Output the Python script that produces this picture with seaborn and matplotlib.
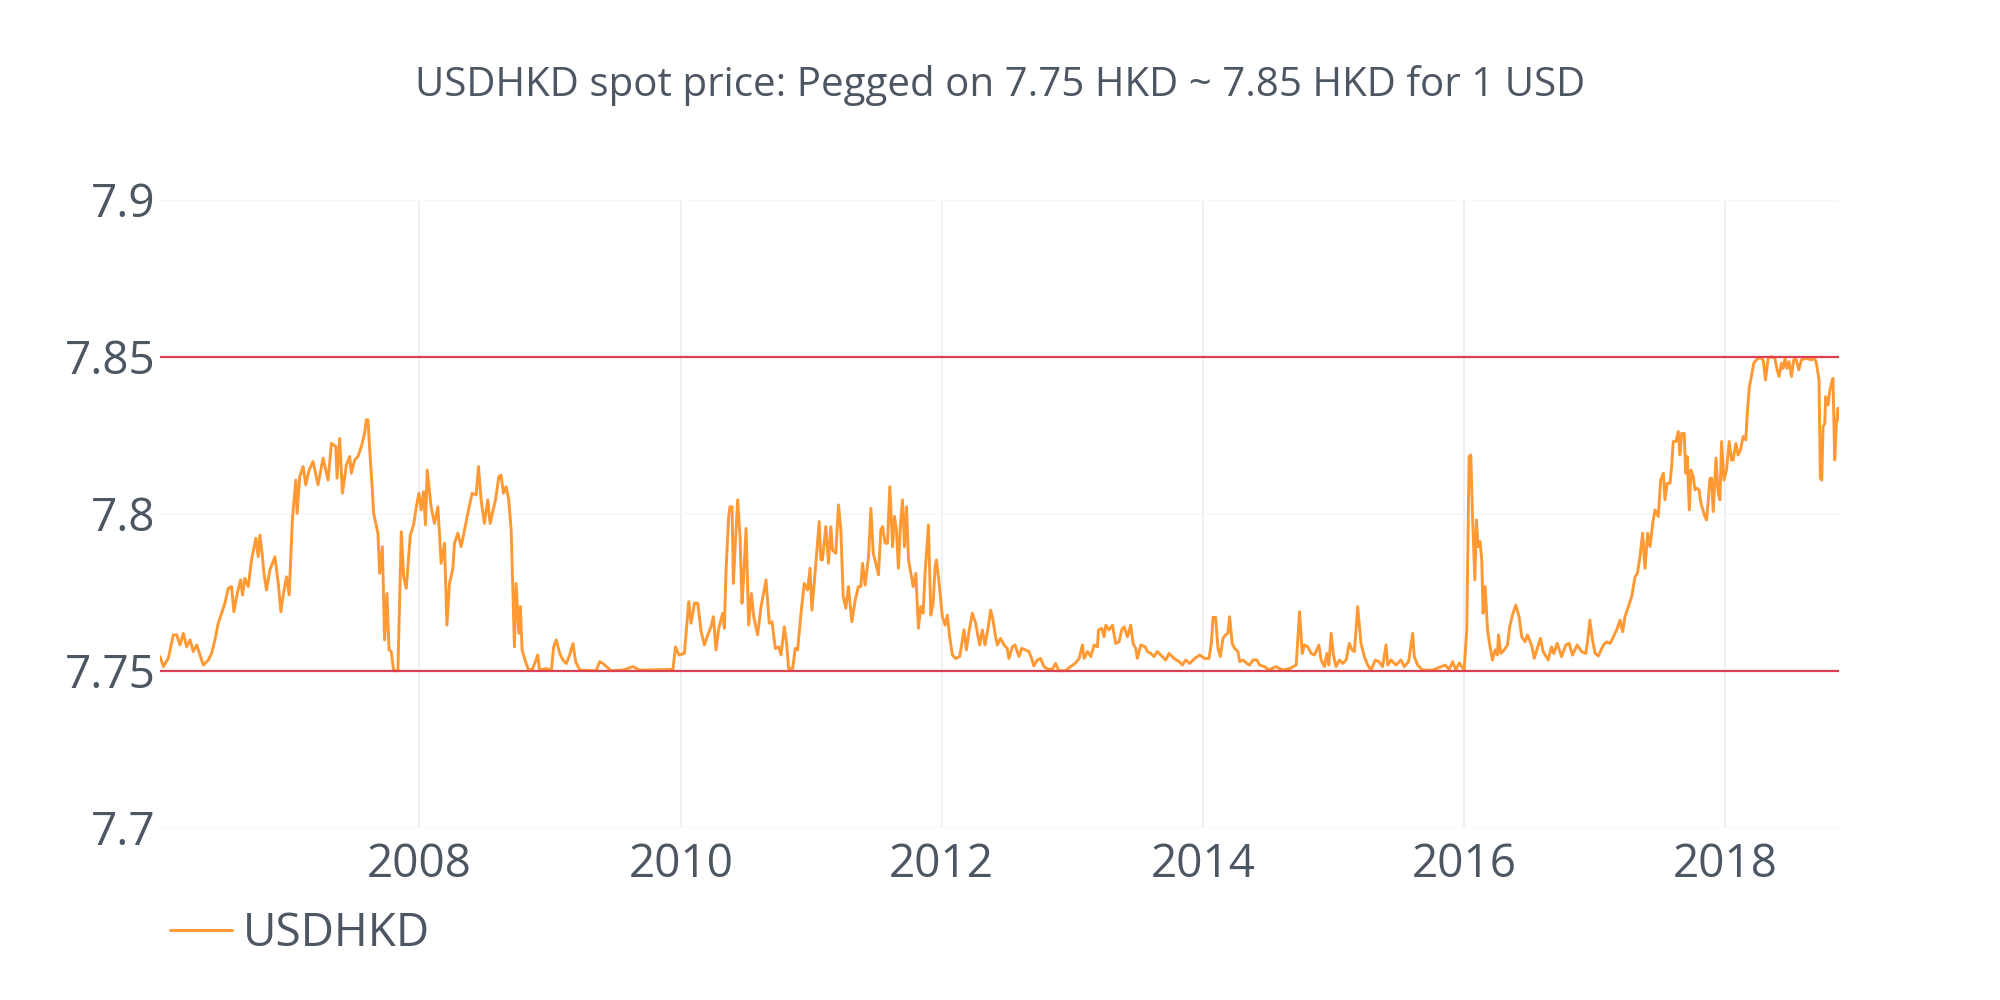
import numpy as np
import pandas as pd
import seaborn as sns
import matplotlib.pyplot as plt
import matplotlib.dates as mdates

# decimal years and USDHKD spot price
years = [
    2006.011, 2006.037, 2006.075, 2006.113, 2006.139, 2006.164, 2006.190, 2006.215, 2006.241, 2006.266,
    2006.292, 2006.343, 2006.381, 2006.406, 2006.432, 2006.457, 2006.483, 2006.508, 2006.534, 2006.559,
    2006.577, 2006.603, 2006.628, 2006.643, 2006.661, 2006.687, 2006.712, 2006.745, 2006.763, 2006.776,
    2006.796, 2006.807, 2006.827, 2006.853, 2006.891, 2006.917, 2006.937, 2006.955, 2006.980, 2007.001,
    2007.026, 2007.052, 2007.062, 2007.082, 2007.108, 2007.128, 2007.154, 2007.184, 2007.222, 2007.261,
    2007.299, 2007.325, 2007.358, 2007.368, 2007.388, 2007.409, 2007.439, 2007.465, 2007.477, 2007.503,
    2007.528, 2007.554, 2007.579, 2007.592, 2007.605, 2007.618, 2007.638, 2007.648, 2007.681, 2007.694,
    2007.715, 2007.732, 2007.750, 2007.766, 2007.783, 2007.801, 2007.834, 2007.860, 2007.878, 2007.898,
    2007.929, 2007.954, 2007.975, 2007.995, 2008.013, 2008.031, 2008.046, 2008.059, 2008.089, 2008.115,
    2008.141, 2008.166, 2008.192, 2008.210, 2008.230, 2008.256, 2008.268, 2008.294, 2008.319, 2008.345,
    2008.370, 2008.403, 2008.434, 2008.452, 2008.472, 2008.497, 2008.523, 2008.541, 2008.582, 2008.608,
    2008.625, 2008.643, 2008.664, 2008.684, 2008.702, 2008.715, 2008.727, 2008.740, 2008.761, 2008.773,
    2008.786, 2008.812, 2008.837, 2008.868, 2008.906, 2008.919, 2008.970, 2009.008, 2009.026, 2009.046,
    2009.072, 2009.097, 2009.123, 2009.148, 2009.174, 2009.194, 2009.225, 2009.352, 2009.378, 2009.403,
    2009.429, 2009.467, 2009.556, 2009.633, 2009.684, 2009.939, 2009.959, 2009.985, 2010.028, 2010.061,
    2010.079, 2010.105, 2010.130, 2010.156, 2010.181, 2010.207, 2010.232, 2010.250, 2010.270, 2010.291,
    2010.321, 2010.334, 2010.347, 2010.367, 2010.377, 2010.393, 2010.403, 2010.418, 2010.436, 2010.454,
    2010.469, 2010.479, 2010.500, 2010.520, 2010.541, 2010.559, 2010.589, 2010.615, 2010.632, 2010.653,
    2010.678, 2010.699, 2010.724, 2010.750, 2010.768, 2010.793, 2010.811, 2010.826, 2010.857, 2010.877,
    2010.895, 2010.921, 2010.946, 2010.972, 2010.990, 2011.005, 2011.023, 2011.048, 2011.061, 2011.074,
    2011.086, 2011.112, 2011.132, 2011.150, 2011.163, 2011.188, 2011.209, 2011.227, 2011.245, 2011.265,
    2011.285, 2011.311, 2011.337, 2011.362, 2011.380, 2011.393, 2011.413, 2011.439, 2011.457, 2011.475,
    2011.495, 2011.515, 2011.533, 2011.546, 2011.566, 2011.584, 2011.602, 2011.623, 2011.638, 2011.653,
    2011.668, 2011.684, 2011.699, 2011.714, 2011.730, 2011.745, 2011.763, 2011.781, 2011.801, 2011.821,
    2011.839, 2011.857, 2011.872, 2011.898, 2011.916, 2011.934, 2011.949, 2011.959, 2011.980, 2012.005,
    2012.026, 2012.043, 2012.061, 2012.082, 2012.107, 2012.138, 2012.171, 2012.189, 2012.209, 2012.235,
    2012.260, 2012.291, 2012.311, 2012.332, 2012.357, 2012.375, 2012.393, 2012.413, 2012.426, 2012.451,
    2012.477, 2012.502, 2012.515, 2012.541, 2012.561, 2012.592, 2012.612, 2012.643, 2012.668, 2012.689,
    2012.706, 2012.732, 2012.757, 2012.783, 2012.821, 2012.852, 2012.872, 2012.898, 2012.949, 2012.987,
    2013.020, 2013.051, 2013.076, 2013.089, 2013.115, 2013.140, 2013.166, 2013.191, 2013.199, 2013.224,
    2013.242, 2013.255, 2013.280, 2013.306, 2013.331, 2013.357, 2013.377, 2013.395, 2013.421, 2013.446,
    2013.464, 2013.484, 2013.497, 2013.523, 2013.556, 2013.574, 2013.599, 2013.625, 2013.650, 2013.676,
    2013.714, 2013.740, 2013.778, 2013.816, 2013.842, 2013.867, 2013.898, 2013.936, 2013.974, 2014.013,
    2014.046, 2014.064, 2014.077, 2014.097, 2014.115, 2014.133, 2014.153, 2014.173, 2014.191, 2014.204,
    2014.224, 2014.242, 2014.268, 2014.281, 2014.306, 2014.337, 2014.357, 2014.383, 2014.413, 2014.434,
    2014.472, 2014.505, 2014.556, 2014.612, 2014.663, 2014.714, 2014.740, 2014.760, 2014.778, 2014.803,
    2014.829, 2014.854, 2014.888, 2014.905, 2014.931, 2014.949, 2014.964, 2014.982, 2015.000, 2015.020,
    2015.046, 2015.071, 2015.097, 2015.122, 2015.143, 2015.161, 2015.186, 2015.211, 2015.237, 2015.262,
    2015.288, 2015.321, 2015.347, 2015.377, 2015.403, 2015.416, 2015.441, 2015.479, 2015.517, 2015.543,
    2015.576, 2015.607, 2015.619, 2015.645, 2015.683, 2015.760, 2015.857, 2015.887, 2015.913, 2015.938,
    2015.964, 2016.002, 2016.022, 2016.040, 2016.053, 2016.066, 2016.084, 2016.096, 2016.109, 2016.124,
    2016.137, 2016.147, 2016.163, 2016.181, 2016.198, 2016.219, 2016.239, 2016.257, 2016.265, 2016.283,
    2016.308, 2016.334, 2016.351, 2016.372, 2016.397, 2016.423, 2016.443, 2016.469, 2016.487, 2016.518,
    2016.539, 2016.562, 2016.587, 2016.607, 2016.646, 2016.671, 2016.689, 2016.715, 2016.748, 2016.781,
    2016.806, 2016.832, 2016.868, 2016.901, 2016.934, 2016.947, 2016.965, 2016.985, 2017.003, 2017.028,
    2017.067, 2017.092, 2017.118, 2017.143, 2017.169, 2017.194, 2017.214, 2017.232, 2017.258, 2017.283,
    2017.309, 2017.327, 2017.347, 2017.367, 2017.385, 2017.406, 2017.424, 2017.444, 2017.462, 2017.487,
    2017.505, 2017.526, 2017.538, 2017.556, 2017.577, 2017.589, 2017.602, 2017.623, 2017.640, 2017.653,
    2017.666, 2017.686, 2017.697, 2017.709, 2017.725, 2017.737, 2017.755, 2017.768, 2017.781, 2017.799,
    2017.814, 2017.832, 2017.844, 2017.857, 2017.870, 2017.883, 2017.895, 2017.908, 2017.929, 2017.946,
    2017.959, 2017.972, 2017.990, 2018.010, 2018.031, 2018.048, 2018.061, 2018.082, 2018.099, 2018.117,
    2018.138, 2018.158, 2018.168, 2018.184, 2018.201, 2018.219, 2018.240, 2018.265, 2018.291, 2018.309,
    2018.329, 2018.354, 2018.380, 2018.398, 2018.413, 2018.431, 2018.444, 2018.459, 2018.474, 2018.490,
    2018.508, 2018.525, 2018.541, 2018.564, 2018.584, 2018.617, 2018.661, 2018.686, 2018.699, 2018.719,
    2018.729, 2018.740, 2018.750, 2018.763, 2018.770, 2018.788, 2018.801, 2018.814, 2018.826, 2018.839,
    2018.852, 2018.865, 2018.872,
]
usdhkd = [
    7.7545, 7.7513, 7.7540, 7.7614, 7.7614, 7.7582, 7.7619, 7.7576, 7.7598, 7.7561,
    7.7582, 7.7518, 7.7534, 7.7555, 7.7598, 7.7651, 7.7683, 7.7715, 7.7762, 7.7768,
    7.7688, 7.7746, 7.7789, 7.7741, 7.7794, 7.7768, 7.7853, 7.7922, 7.7863, 7.7932,
    7.7863, 7.7810, 7.7757, 7.7821, 7.7863, 7.7778, 7.7688, 7.7741, 7.7799, 7.7741,
    7.7985, 7.8107, 7.8001, 7.8118, 7.8150, 7.8092, 7.8139, 7.8166, 7.8092, 7.8177,
    7.8107, 7.8224, 7.8214, 7.8113, 7.8240, 7.8065, 7.8155, 7.8182, 7.8129, 7.8171,
    7.8182, 7.8214, 7.8256, 7.8299, 7.8299, 7.8203, 7.8076, 7.8001, 7.7938, 7.7810,
    7.7895, 7.7598, 7.7746, 7.7566, 7.7561, 7.7500, 7.7500, 7.7943, 7.7799, 7.7762,
    7.7932, 7.7964, 7.8022, 7.8065, 7.8012, 7.8070, 7.7964, 7.8139, 7.8022, 7.7969,
    7.8022, 7.7842, 7.7906, 7.7645, 7.7778, 7.7826, 7.7906, 7.7938, 7.7895, 7.7948,
    7.8001, 7.8065, 7.8060, 7.8150, 7.8044, 7.7969, 7.8044, 7.7969, 7.8044, 7.8118,
    7.8123, 7.8065, 7.8086, 7.8044, 7.7948, 7.7762, 7.7576, 7.7778, 7.7619, 7.7704,
    7.7566, 7.7529, 7.7500, 7.7507, 7.7550, 7.7502, 7.7507, 7.7502, 7.7576, 7.7598,
    7.7555, 7.7534, 7.7523, 7.7550, 7.7587, 7.7529, 7.7502, 7.7500, 7.7529, 7.7523,
    7.7513, 7.7500, 7.7502, 7.7513, 7.7502, 7.7504, 7.7576, 7.7550, 7.7555, 7.7720,
    7.7651, 7.7715, 7.7715, 7.7624, 7.7582, 7.7614, 7.7640, 7.7672, 7.7566, 7.7635,
    7.7683, 7.7635, 7.7821, 7.7991, 7.8022, 7.8022, 7.7778, 7.7906, 7.8044, 7.7927,
    7.7715, 7.7778, 7.7953, 7.7645, 7.7746, 7.7672, 7.7614, 7.7704, 7.7741, 7.7789,
    7.7651, 7.7656, 7.7571, 7.7576, 7.7550, 7.7640, 7.7587, 7.7507, 7.7507, 7.7571,
    7.7566, 7.7683, 7.7778, 7.7757, 7.7826, 7.7693, 7.7778, 7.7906, 7.7975, 7.7853,
    7.7853, 7.7959, 7.7842, 7.7959, 7.7884, 7.7874, 7.8028, 7.7948, 7.7736, 7.7699,
    7.7768, 7.7656, 7.7725, 7.7768, 7.7768, 7.7842, 7.7773, 7.7863, 7.8017, 7.7874,
    7.7842, 7.7805, 7.7948, 7.7959, 7.7906, 7.7906, 7.8086, 7.7895, 7.7991, 7.7948,
    7.7826, 7.7969, 7.8044, 7.7895, 7.8022, 7.7853, 7.7810, 7.7768, 7.7810, 7.7635,
    7.7704, 7.7683, 7.7810, 7.7964, 7.7677, 7.7715, 7.7831, 7.7853, 7.7778, 7.7672,
    7.7645, 7.7677, 7.7608, 7.7550, 7.7539, 7.7545, 7.7630, 7.7566, 7.7624, 7.7683,
    7.7651, 7.7582, 7.7630, 7.7582, 7.7640, 7.7693, 7.7661, 7.7608, 7.7582, 7.7603,
    7.7582, 7.7571, 7.7539, 7.7576, 7.7582, 7.7545, 7.7571, 7.7566, 7.7561, 7.7539,
    7.7515, 7.7534, 7.7539, 7.7513, 7.7504, 7.7507, 7.7523, 7.7500, 7.7500, 7.7513,
    7.7523, 7.7539, 7.7582, 7.7539, 7.7561, 7.7545, 7.7582, 7.7576, 7.7630, 7.7635,
    7.7608, 7.7645, 7.7630, 7.7645, 7.7587, 7.7592, 7.7630, 7.7640, 7.7608, 7.7645,
    7.7587, 7.7571, 7.7539, 7.7582, 7.7576, 7.7561, 7.7555, 7.7545, 7.7561, 7.7550,
    7.7534, 7.7555, 7.7539, 7.7529, 7.7518, 7.7534, 7.7523, 7.7539, 7.7550, 7.7539,
    7.7539, 7.7587, 7.7670, 7.7670, 7.7571, 7.7545, 7.7603, 7.7614, 7.7619, 7.7672,
    7.7587, 7.7571, 7.7561, 7.7529, 7.7534, 7.7523, 7.7518, 7.7534, 7.7534, 7.7518,
    7.7513, 7.7502, 7.7513, 7.7502, 7.7507, 7.7518, 7.7688, 7.7555, 7.7582, 7.7576,
    7.7555, 7.7550, 7.7582, 7.7534, 7.7513, 7.7555, 7.7518, 7.7619, 7.7550, 7.7513,
    7.7534, 7.7523, 7.7534, 7.7587, 7.7566, 7.7561, 7.7704, 7.7587, 7.7545, 7.7518,
    7.7502, 7.7534, 7.7529, 7.7513, 7.7582, 7.7518, 7.7534, 7.7518, 7.7534, 7.7513,
    7.7529, 7.7619, 7.7545, 7.7518, 7.7502, 7.7502, 7.7518, 7.7504, 7.7529, 7.7502,
    7.7525, 7.7502, 7.7630, 7.8182, 7.8187, 7.7991, 7.7789, 7.7980, 7.7895, 7.7911,
    7.7853, 7.7683, 7.7768, 7.7630, 7.7582, 7.7534, 7.7566, 7.7550, 7.7614, 7.7555,
    7.7566, 7.7582, 7.7640, 7.7677, 7.7709, 7.7672, 7.7608, 7.7592, 7.7614, 7.7582,
    7.7539, 7.7571, 7.7603, 7.7561, 7.7534, 7.7576, 7.7555, 7.7587, 7.7545, 7.7582,
    7.7587, 7.7550, 7.7582, 7.7561, 7.7555, 7.7592, 7.7661, 7.7598, 7.7555, 7.7547,
    7.7582, 7.7592, 7.7587, 7.7608, 7.7630, 7.7661, 7.7624, 7.7672, 7.7704, 7.7736,
    7.7799, 7.7810, 7.7863, 7.7938, 7.7826, 7.7938, 7.7895, 7.7969, 7.8012, 7.7991,
    7.8107, 7.8129, 7.8044, 7.8097, 7.8097, 7.8150, 7.8230, 7.8230, 7.8262, 7.8187,
    7.8256, 7.8256, 7.8129, 7.8182, 7.8012, 7.8139, 7.8118, 7.8076, 7.8081, 7.8076,
    7.8033, 7.8007, 7.7991, 7.7980, 7.8044, 7.8113, 7.8113, 7.8007, 7.8177, 7.8065,
    7.8044, 7.8230, 7.8107, 7.8139, 7.8230, 7.8171, 7.8171, 7.8224, 7.8187, 7.8203,
    7.8246, 7.8235, 7.8309, 7.8400, 7.8437, 7.8479, 7.8490, 7.8498, 7.8490, 7.8426,
    7.8495, 7.8500, 7.8495, 7.8458, 7.8437, 7.8479, 7.8463, 7.8495, 7.8463, 7.8484,
    7.8437, 7.8490, 7.8495, 7.8458, 7.8490, 7.8495, 7.8490, 7.8495, 7.8479, 7.8426,
    7.8113, 7.8107, 7.8277, 7.8288, 7.8373, 7.8346, 7.8389, 7.8415, 7.8431, 7.8171,
    7.8288, 7.8336, 7.8299,
]
peg_band = [7.75, 7.85]
y_ticks = [7.7, 7.75, 7.8, 7.85, 7.9]
y_labels = ['7.7', '7.75', '7.8', '7.85', '7.9']


def to_date(y):
    base = pd.Timestamp(int(y), 1, 1)
    return base + pd.Timedelta(days=(y - int(y)) * 365.25)


df = pd.DataFrame({'date': [to_date(y) for y in years], 'USDHKD': usdhkd})

sns.set_style('white')
plt.rcParams['font.family'] = ['Open Sans', 'DejaVu Sans']
text_col = '#4D5663'

fig, ax = plt.subplots(figsize=(20, 10), dpi=100)
plt.subplots_adjust(left=0.08, right=0.9195, bottom=0.1723, top=0.8003)

sns.lineplot(data=df, x='date', y='USDHKD', ax=ax, color='#FF9933',
             linewidth=2.1, label='USDHKD')
ax.hlines(peg_band, df['date'].iloc[0], df['date'].iloc[-1],
          color='#DB4052', linewidth=1.6, zorder=3)

ax.set_xlim(df['date'].iloc[0], df['date'].iloc[-1])
ax.set_ylim(7.7, 7.9)
ax.set_yticks(y_ticks)
ax.set_yticklabels(y_labels)
ax.xaxis.set_major_locator(mdates.YearLocator(2))
ax.xaxis.set_major_formatter(mdates.DateFormatter('%Y'))
ax.set_xlabel('')
ax.set_ylabel('')

ax.grid(axis='x', color='#ECEEF2', linewidth=1.2)
ax.grid(axis='y', color='#F7F7F7', linewidth=1.2)
ax.set_axisbelow(True)
for s in ax.spines.values():
    s.set_visible(False)
ax.tick_params(axis='both', length=0, labelsize=33, colors=text_col)
ax.tick_params(axis='y', pad=3)
ax.tick_params(axis='x', pad=10)

fig.suptitle('USDHKD spot price: Pegged on 7.75 HKD ~ 7.85 HKD for 1 USD',
             x=0.5, y=0.915, va='center', fontsize=29, color=text_col)

leg = ax.legend(loc='center left', bbox_to_anchor=(0.085, 0.066),
                bbox_transform=fig.transFigure, frameon=False, fontsize=33,
                handlelength=1.35, handletextpad=0.25, borderpad=0,
                borderaxespad=0)
for t in leg.get_texts():
    t.set_color(text_col)

fig.savefig('out.png', dpi=100, facecolor='white')
